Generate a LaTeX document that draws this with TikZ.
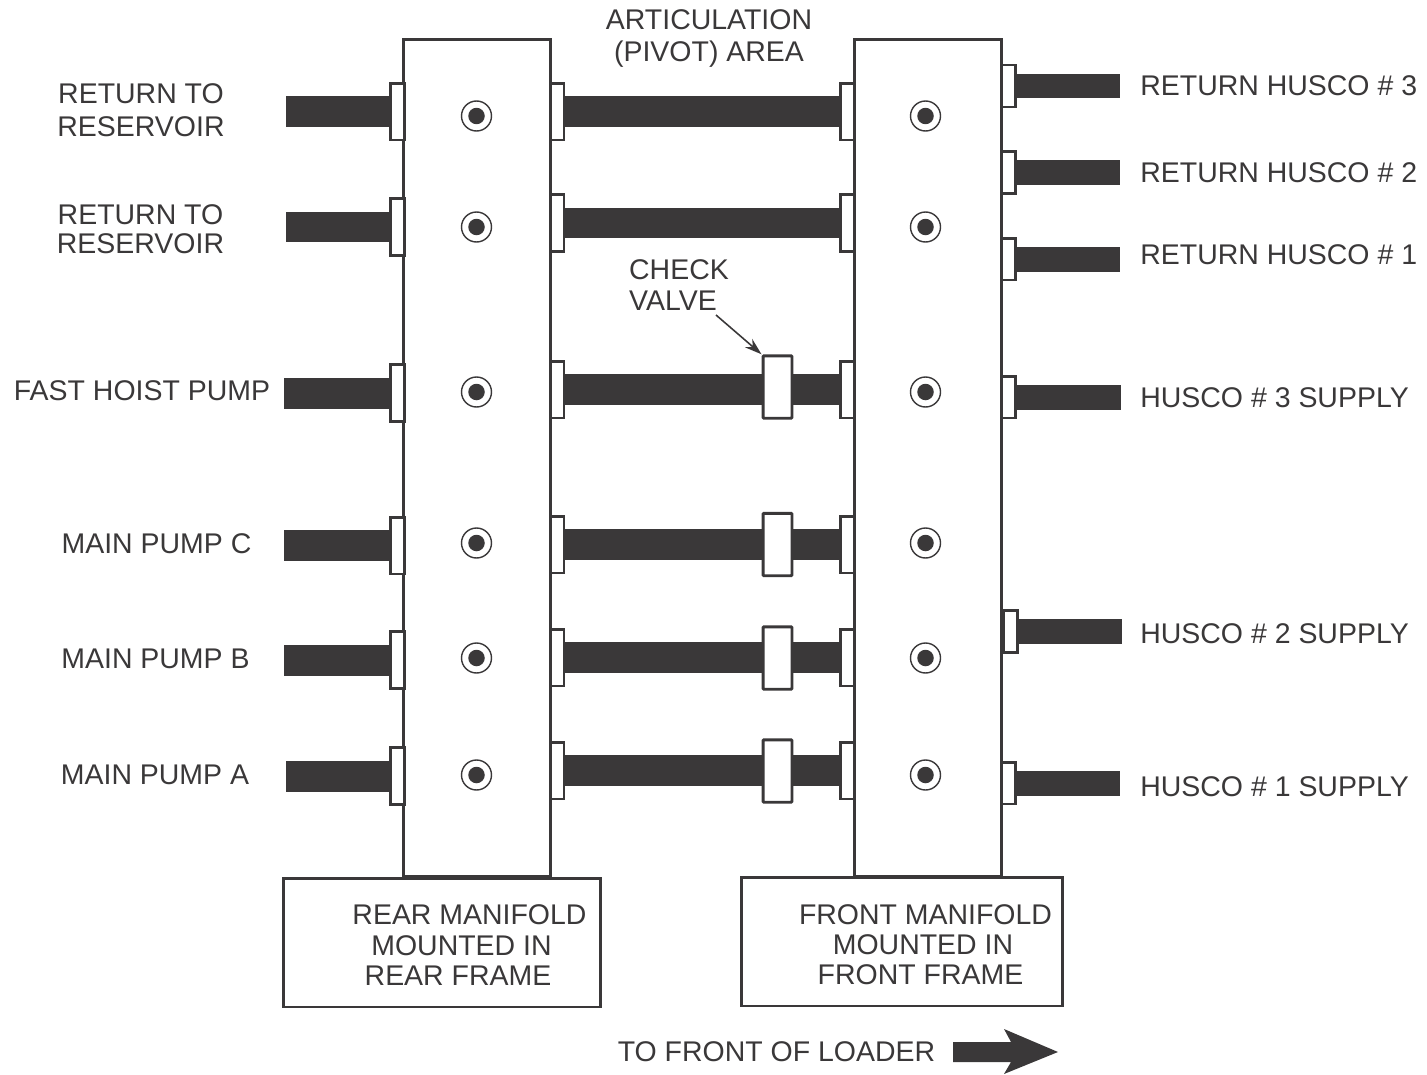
\documentclass[tikz,border=0pt]{standalone}
\usepackage{fontspec}
\setmainfont{Liberation Sans}
\usetikzlibrary{arrows.meta,positioning,calc}
\definecolor{ink}{HTML}{3A3839}

\begin{document}
\begin{tikzpicture}[x=0.02cm, y=-0.02cm, >={Stealth[length=0.34cm,width=0.22cm]},
  ink line/.style={draw=ink, line width=1.7pt},
  manifold/.style={ink line, fill=white, inner sep=0pt, minimum width=2.93cm, minimum height=16.76cm},
  flange/.style={ink line, fill=white, inner sep=0pt, outer sep=0pt, minimum width=0.28cm, minimum height=1.14cm},
  smallflange/.style={flange, minimum height=0.84cm},
  valve/.style={ink line, fill=white, rounded corners=0.6pt, inner sep=0pt, minimum width=0.58cm, minimum height=1.25cm},
  bolt/.style={circle, draw=ink, line width=0.8pt, inner sep=0pt, minimum size=0.6cm,
    path picture={\fill[ink] (path picture bounding box.center) circle (0.165cm);}},
  pipe/.style={draw=ink, line width=0.62cm},
  smallpipe/.style={draw=ink, line width=0.5cm},
  lbl/.style={inner sep=0pt, align=center, text=ink, font=\fontsize{16.2}{17.6}\selectfont},
  rlbl/.style={lbl, anchor=west},
  panel/.style={ink line, inner sep=0pt}]

\useasboundingbox (0,0) rectangle (1427,1075);

% Manifolds
\node[manifold] (rearmf) at (477,458) {};
\node[manifold] (frontmf) at (928,458) {};

% Rear manifold flanges
\node[flange] (rl1) at (397.5,111.5) {};
\node[flange] (rl2) at (397.5,227) {};
\node[flange] (rl3) at (397.5,393) {};
\node[flange] (rl4) at (397.5,545.5) {};
\node[flange] (rl5) at (397.5,660) {};
\node[flange] (rl6) at (397.5,776) {};
\node[flange] (rr1) at (557,111.5) {};
\node[flange] (rr2) at (557,223) {};
\node[flange] (rr3) at (557,389.5) {};
\node[flange] (rr4) at (557,544.5) {};
\node[flange] (rr5) at (557,657.5) {};
\node[flange] (rr6) at (557,770.5) {};

% Front manifold flanges
\node[flange] (fl1) at (847,111.5) {};
\node[flange] (fl2) at (847,223) {};
\node[flange] (fl3) at (847,389.5) {};
\node[flange] (fl4) at (847,544.5) {};
\node[flange] (fl5) at (847,657.5) {};
\node[flange] (fl6) at (847,770.5) {};
\node[smallflange] (fr1) at (1008.5,86) {};
\node[smallflange] (fr2) at (1008.5,172.5) {};
\node[smallflange] (fr3) at (1008.5,259) {};
\node[smallflange] (fr4) at (1008.5,397) {};
\node[smallflange] (fr5) at (1010,631.5) {};
\node[smallflange] (fr6) at (1008.5,783) {};

% Free pipe ends
\coordinate (pl1) at (286,111.5);
\coordinate (pl2) at (286,227);
\coordinate (pl3) at (284,393);
\coordinate (pl4) at (284,545.5);
\coordinate (pl5) at (284,660);
\coordinate (pl6) at (286,776);
\coordinate (pr1) at (1120,86);
\coordinate (pr2) at (1120,172.5);
\coordinate (pr3) at (1120,259);
\coordinate (pr4) at (1121,397);
\coordinate (pr5) at (1122,631.5);
\coordinate (pr6) at (1120,783);

% Pipes
\draw[pipe] (pl1) -- (rl1);
\draw[pipe] (pl2) -- (rl2);
\draw[pipe] (pl3) -- (rl3);
\draw[pipe] (pl4) -- (rl4);
\draw[pipe] (pl5) -- (rl5);
\draw[pipe] (pl6) -- (rl6);
\draw[pipe] (rr1) -- (fl1);
\draw[pipe] (rr2) -- (fl2);
\draw[pipe] (rr3) -- (fl3);
\draw[pipe] (rr4) -- (fl4);
\draw[pipe] (rr5) -- (fl5);
\draw[pipe] (rr6) -- (fl6);
\draw[smallpipe] (fr1) -- (pr1);
\draw[smallpipe] (fr2) -- (pr2);
\draw[smallpipe] (fr3) -- (pr3);
\draw[smallpipe] (fr4) -- (pr4);
\draw[smallpipe] (fr5) -- (pr5);
\draw[smallpipe] (fr6) -- (pr6);

% Check valves
\node[valve] (cv3) at (777.5,387) {};
\node[valve] (cv4) at (777.5,544.5) {};
\node[valve] (cv5) at (777.5,658) {};
\node[valve] (cv6) at (777.5,771) {};

% Bolts
\node[bolt] (rb1) at (476.5,116) {};
\node[bolt] (rb2) at (476.5,227) {};
\node[bolt] (rb3) at (476.5,392) {};
\node[bolt] (rb4) at (476.5,543) {};
\node[bolt] (rb5) at (476.5,658) {};
\node[bolt] (rb6) at (476.5,775) {};
\node[bolt] (fb1) at (925.5,116) {};
\node[bolt] (fb2) at (925.5,227) {};
\node[bolt] (fb3) at (925.5,392) {};
\node[bolt] (fb4) at (925.5,543) {};
\node[bolt] (fb5) at (925.5,658) {};
\node[bolt] (fb6) at (925.5,775) {};

% Left labels
\node[lbl] (ret1) at (141,110) {RETURN TO\\[1pt]RESERVOIR};
\node[lbl] (ret2) at (140.5,229.5) {RETURN TO\\[-1pt]RESERVOIR};
\node[lbl] (fast) at (142,391) {FAST HOIST PUMP};
\node[lbl] (pumpc) at (156.5,544) {MAIN PUMP C};
\node[lbl] (pumpb) at (155.5,659) {MAIN PUMP B};
\node[lbl] (pumpa) at (155,775) {MAIN PUMP A};

% Right labels
\node[rlbl] (husret3) at (1140,86) {RETURN HUSCO \# 3};
\node[rlbl] (husret2) at (1140,173) {RETURN HUSCO \# 2};
\node[rlbl] (husret1) at (1140,255) {RETURN HUSCO \# 1};
\node[rlbl] (hus3) at (1140,398) {HUSCO \# 3 SUPPLY};
\node[rlbl] (hus2) at (1140,634) {HUSCO \# 2 SUPPLY};
\node[rlbl] (hus1) at (1140,787) {HUSCO \# 1 SUPPLY};

% Centre labels
\node[lbl] (pivot) at (709,38.5) {ARTICULATION\\[1pt](PIVOT) AREA};
\node[lbl, align=left] (chk) at (679,285) {CHECK\\VALVE};
\coordinate (chkend) at (716,315);
\draw[->, ink line, line width=0.9pt] (chkend) -- (cv3.north west);

% Bottom panels
\node[panel, minimum width=6.36cm, minimum height=2.58cm] (rearbox) at (442,942.5) {};
\node[panel, minimum width=6.44cm, minimum height=2.58cm] (frontbox) at (902,941.5) {};
\node[lbl] (reartxt1) at (469.5,915) {REAR MANIFOLD};
\node[lbl] (reartxt2) at (461.5,946) {MOUNTED IN};
\node[lbl] (reartxt3) at (458,976) {REAR FRAME};
\node[lbl] (fronttxt1) at (925.5,915) {FRONT MANIFOLD};
\node[lbl] (fronttxt2) at (923,945) {MOUNTED IN};
\node[lbl] (fronttxt3) at (920.5,975) {FRONT FRAME};

% Direction arrow
\node[lbl] (loader) at (776.5,1052) {TO FRONT OF LOADER};
\fill[ink] (953,1042) -- (1011,1042) -- (1004,1029) -- (1058,1052) -- (1004,1074) -- (1011,1062) -- (953,1062) -- cycle;

\end{tikzpicture}
\end{document}
